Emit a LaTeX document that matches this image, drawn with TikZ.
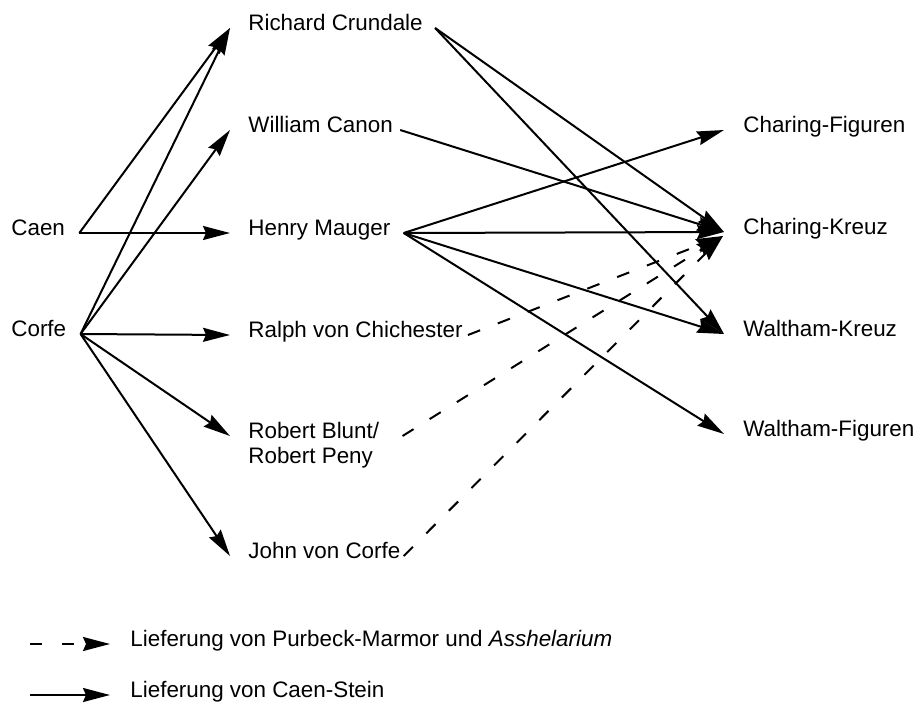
\documentclass[tikz,border=0pt]{standalone}
\usepackage{fontspec}
\setmainfont{Liberation Sans}
\usepackage{tikz}
\usetikzlibrary{arrows.meta}

\begin{document}
\begin{tikzpicture}[
    x=0.5pt, y=-0.5pt,
    lbl/.style={font=\fontsize{11.2}{12.6}\selectfont, inner sep=0pt, text height=8pt, text depth=6pt, anchor=base west},
    arrow/.style={-{Stealth[length=13.5pt, width=7pt, inset=1.5pt]}, line width=1pt},
    marble/.style={arrow, dash pattern=on 6.5pt off 9.5pt},
]
    \useasboundingbox (0,0) rectangle (922,707);

    % quarries
    \node[lbl] (caen) at (11,235) {Caen};
    \node[lbl] (corfe) at (11,336) {Corfe};

    % masons
    \node[lbl] (crundale) at (248,30) {Richard Crundale};
    \node[lbl] (canon) at (248,132) {William Canon};
    \node[lbl] (mauger) at (248,235) {Henry Mauger};
    \node[lbl] (ralph) at (248,337) {Ralph von Chichester};
    \node[lbl] (blunt) at (248,438) {\begin{tabular}[t]{@{}l@{}}Robert Blunt/\\Robert Peny\end{tabular}};
    \node[lbl] (john) at (248,558) {John von Corfe};

    % works
    \node[lbl] (cfig) at (743,132) {Charing-Figuren};
    \node[lbl] (ckreuz) at (743,234) {Charing-Kreuz};
    \node[lbl] (wkreuz) at (743,336) {Waltham-Kreuz};
    \node[lbl] (wfig) at (743,436) {Waltham-Figuren};

    \draw[arrow] ([xshift=7pt]caen.east) -- ([xshift=-9pt]crundale.west);
    \draw[arrow] ([xshift=7pt]caen.east) -- ([xshift=-9pt]mauger.west);
    \draw[arrow] ([xshift=7pt]corfe.east) -- ([xshift=-9pt]crundale.west);
    \draw[arrow] ([xshift=7pt]corfe.east) -- ([xshift=-9pt]canon.west);
    \draw[arrow] ([xshift=7pt]corfe.east) -- ([xshift=-9pt]ralph.west);
    \draw[arrow] ([xshift=7pt]corfe.east) -- ([xshift=-9pt]blunt.west);
    \draw[arrow] ([xshift=7pt]corfe.east) -- ([xshift=-9pt]john.west);

    \draw[arrow] ([xshift=6pt]crundale.east) -- ([xshift=-9.5pt]ckreuz.west);
    \draw[arrow] ([xshift=6pt]crundale.east) -- ([xshift=-9.5pt]wkreuz.west);
    \draw[arrow] ([xshift=3.5pt]canon.east) -- ([xshift=-9.5pt]ckreuz.west);
    \draw[arrow] ([xshift=6.5pt]mauger.east) -- ([xshift=-9.5pt]cfig.west);
    \draw[arrow] ([xshift=6.5pt]mauger.east) -- ([xshift=-9.5pt]ckreuz.west);
    \draw[arrow] ([xshift=6.5pt]mauger.east) -- ([xshift=-9.5pt]wkreuz.west);
    \draw[arrow] ([xshift=6.5pt]mauger.east) -- ([xshift=-9.5pt]wfig.west);

    \draw[marble] ([xshift=2.5pt]ralph.east) -- ([xshift=-10pt,yshift=-2pt]ckreuz.west);
    \draw[marble] ([xshift=11.5pt]blunt.east) -- ([xshift=-10pt,yshift=-2pt]ckreuz.west);
    \draw[marble] ([xshift=1.5pt]john.east) -- ([xshift=-10pt,yshift=-2pt]ckreuz.west);

    % legend
    \node[lbl] (legmarble) at (130,646) {Lieferung von Purbeck-Marmor und \textit{Asshelarium}};
    \node[lbl] (legcaen) at (130,697) {Lieferung von Caen-Stein};
    \draw[marble, dash pattern=on 6pt off 10pt] ([xshift=-50pt]legmarble.west) -- ([xshift=-10pt]legmarble.west);
    \draw[arrow] ([xshift=-50pt]legcaen.west) -- ([xshift=-10pt]legcaen.west);
\end{tikzpicture}
\end{document}
